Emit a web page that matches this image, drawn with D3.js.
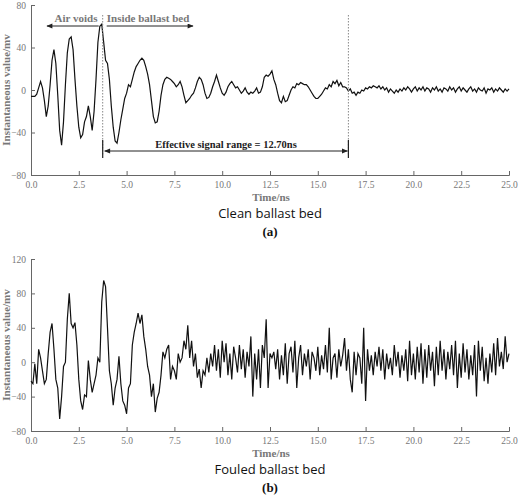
<!DOCTYPE html>
<html><head><meta charset="utf-8">
<script src="https://cdn.jsdelivr.net/npm/d3@7"></script>
<style>body{margin:0;background:#fff}svg{display:block}</style></head>
<body><svg id="c" width="520" height="496"></svg>
<script>
const step = 0.1;
const xTicks = [0,2.5,5,7.5,10,12.5,15,17.5,20,22.5,25];
const yTicksA = [-80,-40,0,40,80];
const yTicksB = [-80,-40,0,40,80,120];
const cleanValues = [
-6,-6,-6,-4,2,8,2,-10,-25,-15, 5,28,38,25,-5,-38,-52,-30,5,35,
48,50,38,10,-15,-35,-45,-42,-30,-25, -15,-25,-38,-20,10,45,60,62,45,28,
25,10,-15,-35,-48,-50,-40,-28,-18,-8, -3,5,3,10,17,22,25,28,30,28,
22,15,5,-10,-25,-31,-30,-20,-5,5, 10,12,11,10,8,6,3,5,8,3,
-5,-12,-10,-8,-5,-3,2,8,12,10, 5,-3,-8,-7,-3,3,8,14,8,2,
-3,-5,-2,3,6,8,5,2,3,0, -3,-1,2,-2,-4,-2,-3,-1,2,-3,
-2,3,12,14,13,15,18,10,5,-3, -10,-12,-6,-11,-10,-5,0,3,2,6,
5,7,6,5,5,3,0,-3,-6,-8, -8,-6,-4,-1,2,1,5,3,8,6,
9,4,7,3,3,2,-1,1,-3,-2, -5,-2,-3,0,-1,2,1,3,2,4,
3,2,4,1,3,0,2,-2,1,-1, -3,0,-2,1,-1,2,0,3,1,-2,
1,3,-1,2,0,3,-1,2,1,-2, 2,0,3,-1,1,-2,2,1,-1,3,
0,2,-2,1,3,-1,2,0,-2,1, 3,-1,1,-2,2,0,-1,2,-3,1,
0,2,-2,1,-1,2,0,-2,1,-1, 1
];
const fouledValues = [
-22,-25,-2,-25,15,5,-10,-25,-20,10, 35,45,15,-20,-30,-66,-40,-5,0,50,
80,45,40,46,20,-20,-45,-55,-38,-40, 2,-20,-35,-25,-15,5,0,70,95,88,
40,-10,-25,-50,-30,-20,7,-25,-45,-50, -60,-30,-25,20,35,45,57,45,55,30,
15,-5,-15,-40,-25,-58,-42,-35,-15,12, 5,15,20,-20,-5,-10,-20,10,0,5,
25,15,43,5,25,-5,10,-18,-8,-30, -10,-15,5,-12,10,-5,20,-10,15,-18,
25,0,22,-15,10,-20,18,5,-12,20, -8,15,-18,12,-5,30,-40,10,-20,15,
-30,20,5,50,-30,10,5,12,-8,15, -20,8,-15,22,-25,10,18,-12,25,-30,
5,20,-15,10,-5,15,-20,12,5,-10, 18,-15,8,-8,20,-12,40,-20,5,10,
-18,15,-5,8,28,-10,15,-20,-35,12, -15,10,5,-25,40,-45,15,-10,8,-15,
12,-5,18,-10,15,-20,10,-8,5,-15, 20,-5,12,-18,8,-10,15,-22,25,-15,
10,-20,18,-12,22,-25,15,-18,20,-10, 12,-28,18,-15,25,-10,15,-20,12,-8,
20,-15,25,-30,10,-18,22,-12,15,-20, 8,-15,20,-40,25,-10,18,-22,5,-25,
10,-12,22,-15,28,-5,12,-8,30,0, 10
];
const cleanData = cleanValues.map((v,i)=>[i*step,v]);
const fouledData = fouledValues.map((v,i)=>[i*step,v]);

const svg = d3.select("#c");
const serif = "'Liberation Serif', 'Times New Roman', serif";
const gray = "#777";
svg.append("defs").html(`<marker id="ah" viewBox="0 0 10 10" refX="9" refY="5" markerWidth="8" markerHeight="6" orient="auto-start-reverse"><path d="M0,1L10,5L0,9z" fill="#222"/></marker>`);

function panel(data, yDomain, yTicks, top, bottom, caption, letter){
  const x = d3.scaleLinear().domain([0,25]).range([31,509]);
  const y = d3.scaleLinear().domain(yDomain).range([bottom,top]);
  const gx = svg.append("g").attr("transform",`translate(0,${bottom})`)
    .call(d3.axisBottom(x).tickValues(xTicks).tickFormat(d3.format(".1f")).tickSize(-4).tickPadding(6));
  const gy = svg.append("g").attr("transform",`translate(31,0)`)
    .call(d3.axisLeft(y).tickValues(yTicks).tickFormat(d=>d<0?"\u2212"+(-d):d).tickSize(-4).tickPadding(5));
  [gx,gy].forEach(g=>{g.attr("font-family",null);g.select(".domain").attr("stroke","#666");g.selectAll("line").attr("stroke","#666");
    g.selectAll("text").style("font-family",serif).attr("font-size",9.5).attr("fill",gray);});
  svg.append("path").datum(data).attr("fill","none").attr("stroke","#111").attr("stroke-width",1.2)
    .attr("d",d3.line().x(d=>x(d[0])).y(d=>y(d[1])));
  svg.append("text").attr("x",271).attr("y",bottom+26).attr("text-anchor","middle")
    .style("font-family",serif).attr("font-size",11).attr("font-weight","bold").attr("fill",gray).text("Time/ns");
  svg.append("text").attr("x",270).attr("y",bottom+43).attr("text-anchor","middle")
    .attr("font-family","Open Sans, sans-serif").attr("font-size",13).attr("fill","#111").text(caption);
  svg.append("text").attr("x",270).attr("y",bottom+61).attr("text-anchor","middle")
    .style("font-family",serif).attr("font-size",13).attr("font-weight","bold").attr("fill","#111").text(letter);
  svg.append("text").attr("transform",`translate(10,${(top+bottom)/2}) rotate(-90)`).attr("text-anchor","middle")
    .style("font-family",serif).attr("font-size",11).attr("font-weight","bold").attr("fill",gray).text("Instantaneous value/mv");
  return {x,y};
}
const A = panel(cleanData,[-80,80],yTicksA,5,175,"Clean ballast bed","(a)");
panel(fouledData,[-80,120],yTicksB,259,431,"Fouled ballast bed","(b)");

const t0 = 3.75, t1 = 16.6;
[t0,t1].forEach(t=>svg.append("line").attr("x1",A.x(t)).attr("x2",A.x(t)).attr("y1",15).attr("y2",155)
  .attr("stroke","#888").attr("stroke-dasharray","1.5,1.5").attr("stroke-width",1));
[t0,t1].forEach(t=>svg.append("line").attr("x1",A.x(t)).attr("x2",A.x(t)).attr("y1",140).attr("y2",158)
  .attr("stroke","#222").attr("stroke-width",1.2));
svg.append("line").attr("x1",A.x(t0)+2).attr("x2",A.x(t1)-1).attr("y1",151).attr("y2",151)
  .attr("stroke","#222").attr("stroke-width",1).attr("marker-start","url(#ah)").attr("marker-end","url(#ah)");
svg.append("text").attr("x",226).attr("y",148).attr("text-anchor","middle").style("font-family",serif)
  .attr("font-size",10.5).attr("font-weight","bold").attr("fill","#222").text("Effective signal range = 12.70ns");
svg.append("line").attr("x1",A.x(t0)-4).attr("x2",47).attr("y1",26).attr("y2",26)
  .attr("stroke","#222").attr("stroke-width",1).attr("marker-end","url(#ah)");
svg.append("line").attr("x1",A.x(t0)+4).attr("x2",193).attr("y1",26).attr("y2",26)
  .attr("stroke","#222").attr("stroke-width",1).attr("marker-end","url(#ah)");
svg.append("rect").attr("x",53).attr("y",12).attr("width",46).attr("height",12).attr("fill","#fff");
svg.append("rect").attr("x",106).attr("y",12).attr("width",84).attr("height",12).attr("fill","#fff");
svg.append("text").attr("x",76).attr("y",22).attr("text-anchor","middle").style("font-family",serif)
  .attr("font-size",11).attr("font-weight","bold").attr("fill",gray).text("Air voids");
svg.append("text").attr("x",148).attr("y",22).attr("text-anchor","middle").style("font-family",serif)
  .attr("font-size",11).attr("font-weight","bold").attr("fill",gray).text("Inside ballast bed");
</script></body></html>
